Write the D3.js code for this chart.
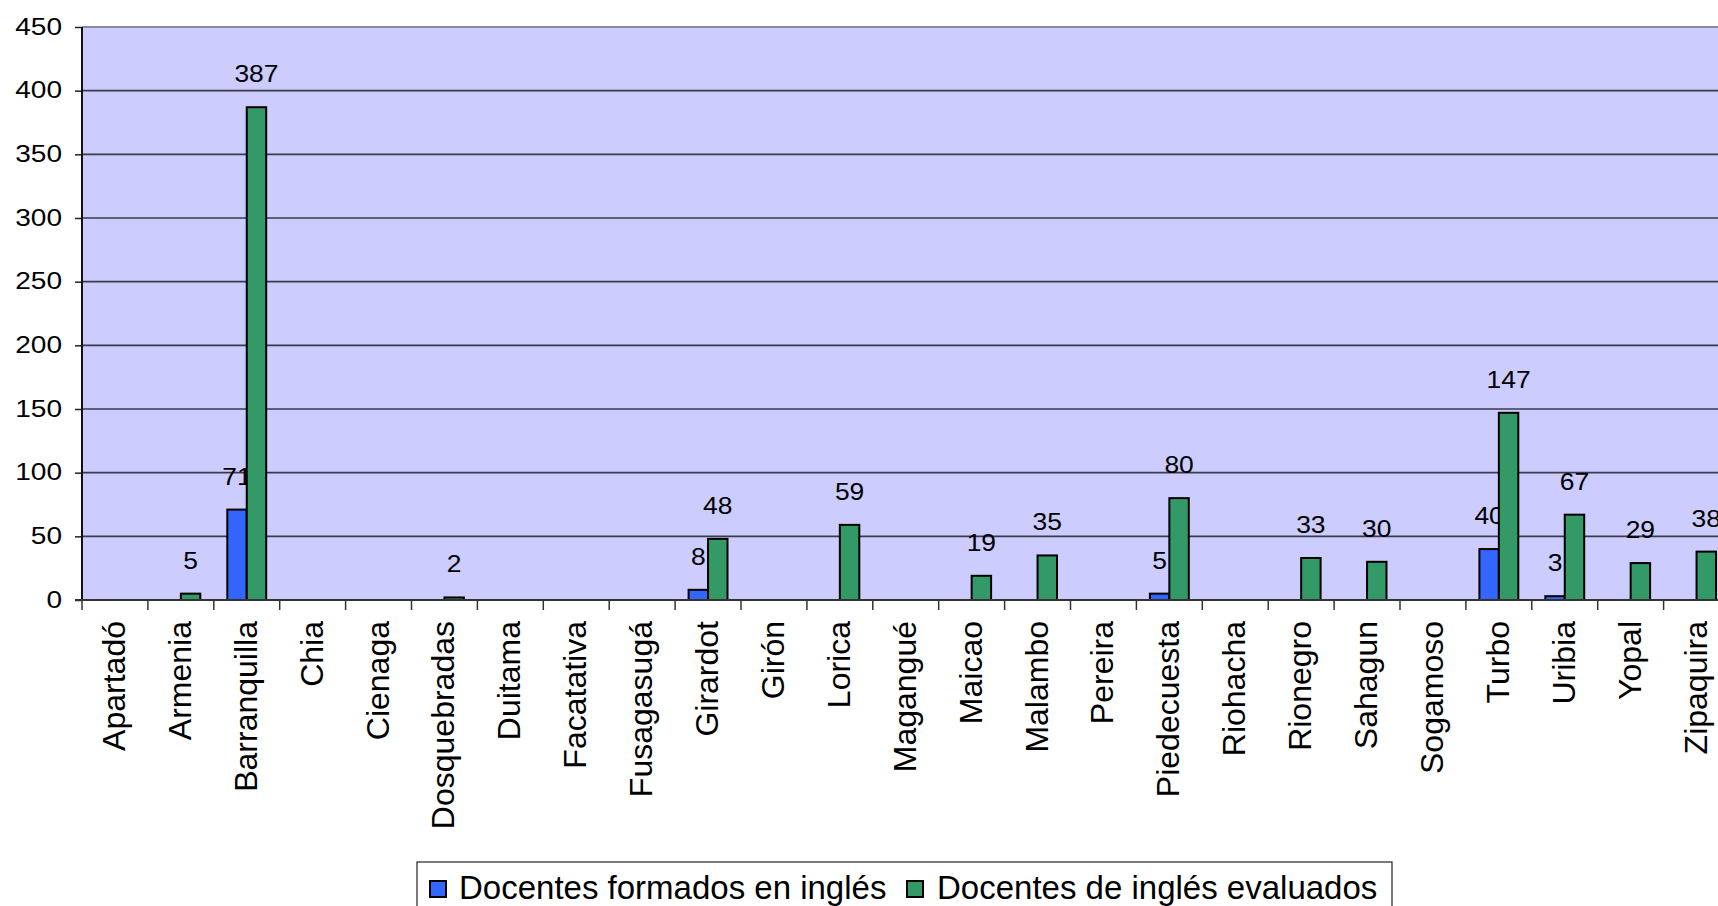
<!DOCTYPE html>
<html>
<head>
<meta charset="utf-8">
<script src="https://cdn.jsdelivr.net/npm/d3@7"></script>
<style>
html,body{margin:0;padding:0;background:#fff;}
svg{display:block;}
text{font-family:"Liberation Sans", Arial, sans-serif; fill:#000;}
</style>
</head>
<body>
<svg id="chart" width="1718" height="906"></svg>
<script>
// ---- data ----
const categories = ["Apartadó","Armenia","Barranquilla","Chia","Cienaga","Dosquebradas","Duitama","Facatativa","Fusagasugá","Girardot","Girón","Lorica","Magangué","Maicao","Malambo","Pereira","Piedecuesta","Riohacha","Rionegro","Sahagun","Sogamoso","Turbo","Uribia","Yopal","Zipaquira"];
const seriesNames = ["Docentes formados en inglés","Docentes de inglés evaluados"];
const formados  = [null,null,71,null,null,null,null,null,null,8,null,null,null,null,null,null,5,null,null,null,null,40,3,null,null];
const evaluados = [null,5,387,null,null,2,null,null,null,48,null,59,null,19,35,null,80,null,33,30,null,147,67,29,38];
const yTicks = [0,50,100,150,200,250,300,350,400,450];
const colors = ["#3366FF","#339966"];

// ---- layout ----
const svg = d3.select("#chart");
const plotLeft = 82, plotTop = 27, zeroY = 600, bandW = 65.9;
const x = d3.scaleBand().domain(categories).range([plotLeft, plotLeft + bandW*categories.length]).padding(0);
const xs = d3.scaleBand().domain(seriesNames).range([13.5, bandW-13.5]).padding(0);
const y = d3.scaleLinear().domain([0,450]).range([zeroY, plotTop]);

// plot background
svg.append("rect").attr("x", plotLeft).attr("y", plotTop)
  .attr("width", x.range()[1]-plotLeft).attr("height", zeroY-plotTop)
  .attr("fill", "#CCCCFF");

// gridlines
svg.append("g").selectAll("line").data(yTicks.filter(d=>d>0)).join("line")
  .attr("x1", plotLeft).attr("x2", x.range()[1])
  .attr("y1", d=>y(d)).attr("y2", d=>y(d))
  .attr("stroke", d=> d===450 ? "#8a8a9a" : "#3a3a4a")
  .attr("stroke-width", d=> d===450 ? 2 : 1.6);

// y axis
const yAxis = d3.axisLeft(y).tickValues(yTicks).tickSize(7).tickFormat("");
const gy = svg.append("g").attr("transform", `translate(${plotLeft},0)`).call(yAxis);
gy.select(".domain").remove();
gy.selectAll(".tick line").attr("stroke", "#222").attr("stroke-width", 1.5);
svg.append("g").selectAll("text").data(yTicks).join("text")
  .attr("x", 62).attr("y", d=>y(d)).attr("dy", "0.32em")
  .attr("text-anchor", "end").attr("font-size", 24)
  .attr("textLength", d=>String(d).length*15.6).attr("lengthAdjust", "spacingAndGlyphs")
  .text(d=>d);

// bars
const seriesData = [formados, evaluados];
seriesData.forEach((vals, si) => {
  const g = svg.append("g");
  const items = categories.map((c,i)=>({c, v: vals[i]})).filter(d=>d.v!==null);
  g.selectAll("rect").data(items).join("rect")
    .attr("x", d=>x(d.c)+xs(seriesNames[si]))
    .attr("width", xs.bandwidth())
    .attr("y", d=>y(d.v))
    .attr("height", d=>zeroY-y(d.v))
    .attr("fill", colors[si]).attr("stroke", "#000").attr("stroke-width", 2);
  g.selectAll("text").data(items).join("text")
    .attr("x", d=>x(d.c)+xs(seriesNames[si])+xs.bandwidth()/2)
    .attr("y", d=>y(d.v)-25)
    .attr("text-anchor", "middle").attr("font-size", 24.5)
    .attr("textLength", d=>String(d.v).length*14.7).attr("lengthAdjust", "spacingAndGlyphs")
    .text(d=>d.v);
});

// axes lines
svg.append("line").attr("x1", plotLeft).attr("x2", plotLeft).attr("y1", plotTop).attr("y2", zeroY)
  .attr("stroke", "#111").attr("stroke-width", 2);
svg.append("line").attr("x1", plotLeft-7).attr("x2", x.range()[1]).attr("y1", zeroY).attr("y2", zeroY)
  .attr("stroke", "#333").attr("stroke-width", 2);

// category ticks
const bounds = categories.map(c=>x(c)).concat([x.range()[1]]);
svg.append("g").selectAll("line").data(bounds).join("line")
  .attr("x1", d=>d).attr("x2", d=>d).attr("y1", zeroY).attr("y2", zeroY+10)
  .attr("stroke", "#333").attr("stroke-width", 1.5);

// category labels
svg.append("g").selectAll("text").data(categories).join("text")
  .attr("transform", d=>`translate(${x(d)+bandW/2+10},621) rotate(-90)`)
  .attr("text-anchor", "end").attr("font-size", 32)
  .text(d=>d);

// legend
const lg = svg.append("g");
lg.append("rect").attr("x", 417).attr("y", 862).attr("width", 975).attr("height", 60)
  .attr("fill", "#fff").attr("stroke", "#222").attr("stroke-width", 1.2);
const legendPos = [{sx:430, tx:459},{sx:907, tx:937}];
seriesNames.forEach((s,i)=>{
  lg.append("rect").attr("x", legendPos[i].sx).attr("y", 881).attr("width", 16).attr("height", 16)
    .attr("fill", colors[i]).attr("stroke", "#000").attr("stroke-width", 2);
  lg.append("text").attr("x", legendPos[i].tx).attr("y", 899).attr("font-size", 33).text(s);
});
</script>
</body>
</html>
